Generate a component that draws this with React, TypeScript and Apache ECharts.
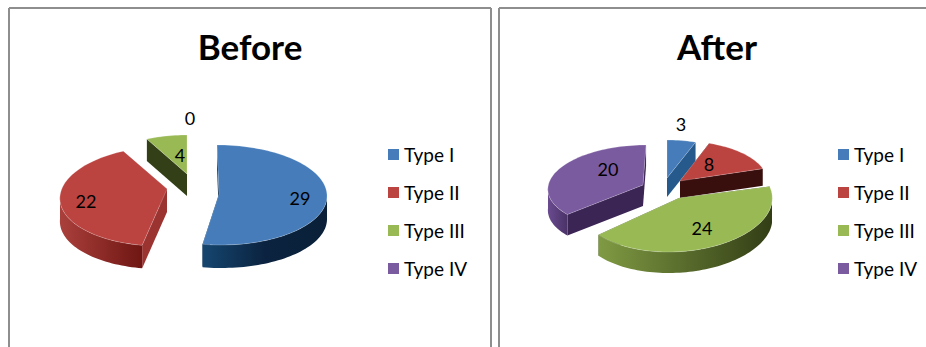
import React, { useEffect, useRef } from "react";
import * as echarts from "echarts";

const typeNames = ["Type I", "Type II", "Type III", "Type IV"];
const beforeValues = [29, 22, 4, 0];
const afterValues = [3, 8, 24, 20];

const faceColors = ["#457cb9", "#bb4441", "#98b954", "#7b5ba0"];
const FONT = "Lato, Carlito, sans-serif";

type SliceLayout = {
  apex: [number, number];
  center: [number, number];
  rx: number;
  ry: number;
  shear: number;
  depth: number;
  cut: string;
  rim: string[];
  label: [number, number];
  order: number;
};

const beforeLayout: SliceLayout[] = [
  { apex: [219, 194], center: [219, 195], rx: 108, ry: 50, shear: 0.04, depth: 23, cut: "#0c2a4a", rim: ["#15466f", "#0b2340", "#0a2038"], label: [300, 198], order: 3 },
  { apex: [167, 189], center: [165, 196], rx: 105, ry: 50, shear: -0.1, depth: 23, cut: "#9b3431", rim: ["#aa403c", "#6f1613"], label: [86, 201], order: 2 },
  { apex: [187, 174], center: [187, 175], rx: 91, ry: 40, shear: 0, depth: 22, cut: "#333f16", rim: ["#333f16", "#333f16"], label: [180, 155], order: 1 },
  { apex: [190, 150], center: [190, 150], rx: 0, ry: 0, shear: 0, depth: 0, cut: "#3b2554", rim: ["#3b2554", "#3b2554"], label: [190, 118], order: 0 },
];

const afterLayout: SliceLayout[] = [
  { apex: [667, 178], center: [667, 178], rx: 85, ry: 38, shear: 0, depth: 19, cut: "#265a8c", rim: ["#265a8c", "#265a8c"], label: [681, 124], order: 0 },
  { apex: [680, 181], center: [680, 181], rx: 87, ry: 40, shear: 0, depth: 17, cut: "#390f0e", rim: ["#390f0e", "#390f0e"], label: [709, 164], order: 1 },
  { apex: [679, 198], center: [676, 202], rx: 96, ry: 50, shear: -0.15, depth: 21, cut: "#333f16", rim: ["#7f9a43", "#323d15"], label: [702, 228], order: 3 },
  { apex: [643, 185], center: [641, 187], rx: 93, ry: 42, shear: -0.12, depth: 21, cut: "#3b2554", rim: ["#6a4b90", "#4a3266"], label: [608, 169], order: 2 },
];

const rimPoint = (s: SliceLayout, deg: number, dy = 0): [number, number] => {
  const a = (deg * Math.PI) / 180;
  const up = s.ry * Math.cos(a);
  return [s.center[0] + s.rx * Math.sin(a) - s.shear * up, s.center[1] - up + dy];
};

const arc = (s: SliceLayout, from: number, to: number, dy = 0) => {
  const pts: [number, number][] = [];
  const steps = Math.max(2, Math.ceil((to - from) / 2));
  for (let i = 0; i <= steps; i++) pts.push(rimPoint(s, from + ((to - from) * i) / steps, dy));
  return pts;
};

// One wedge of the tilted pie: inner cut walls, the outer rim, the top face and the value label.
const wedgeSeries = (values: number[], layout: SliceLayout[], i: number) => {
  const total = values.reduce((a, b) => a + b, 0);
  const startValue = values.slice(0, i).reduce((a, b) => a + b, 0);
  const s = layout[i];
  return {
    type: "custom",
    name: typeNames[i],
    coordinateSystem: "none",
    z: 2 + s.order,
    silent: true,
    itemStyle: { color: faceColors[i] },
    data: [[values[i]]],
    renderItem: (_: unknown, api: any) => {
      const v = api.value(0) as number;
      const children: any[] = [];
      if (v > 0) {
        const from = (startValue / total) * 360;
        const to = ((startValue + v) / total) * 360;
        const d = s.depth;
        for (const edge of [from, to]) {
          const r = rimPoint(s, edge);
          children.push({
            type: "polygon",
            shape: { points: [s.apex, r, [r[0], r[1] + d], [s.apex[0], s.apex[1] + d]] },
            style: { fill: s.cut },
          });
        }
        const a = Math.max(from, 90);
        const b = Math.min(to, 270);
        if (b > a) {
          const stops = s.rim.map((color, k) => ({ offset: k / (s.rim.length - 1), color }));
          children.push({
            type: "polygon",
            shape: { points: [...arc(s, a, b), ...arc(s, a, b, d).reverse()] },
            style: { fill: new echarts.graphic.LinearGradient(0, 0, 1, 0, stops) },
          });
        }
        children.push({
          type: "polygon",
          shape: { points: [s.apex, ...arc(s, from, to)] },
          style: { fill: faceColors[i], stroke: "rgba(255,255,255,0.35)", lineWidth: 0.6 },
        });
      }
      children.push({
        type: "text",
        z2: 10,
        style: {
          text: String(v),
          x: s.label[0],
          y: s.label[1],
          align: "center",
          verticalAlign: "middle",
          fill: "#000",
          font: `18px ${FONT}`,
        },
      });
      return { type: "group", children };
    },
  };
};

const chartLegend = (left: number) => ({
  data: typeNames,
  orient: "vertical",
  left,
  top: 140,
  itemWidth: 11,
  itemHeight: 11,
  itemGap: 19,
  icon: "rect",
  selectedMode: false,
  textStyle: { fontFamily: FONT, fontSize: 19, color: "#000" },
});

const chartTitle = (text: string, x: number) => ({
  text,
  left: x,
  top: 23,
  textAlign: "center",
  textStyle: { fontFamily: FONT, fontSize: 35, fontWeight: "bold", color: "#000" },
});

const frameColor = "#8e8e8e";
const frameLine = (x1: number, y1: number, x2: number, y2: number) => ({
  type: "line",
  shape: { x1, y1, x2, y2 },
  style: { stroke: frameColor, lineWidth: 2 },
});

export default function App() {
  const ref = useRef<HTMLDivElement>(null);
  useEffect(() => {
    const chart = echarts.init(ref.current!, undefined, { renderer: "svg" });
    chart.setOption({
      animation: false,
      backgroundColor: "#fff",
      title: [chartTitle("Before", 245), chartTitle("After", 712)],
      legend: [chartLegend(383), chartLegend(833)],
      graphic: [
        frameLine(9, 8, 491, 8),
        frameLine(9, 8, 9, 347),
        frameLine(491, 8, 491, 347),
        frameLine(499, 8, 926, 8),
        frameLine(499, 8, 499, 347),
      ],
      series: [
        ...typeNames.map((_, i) => wedgeSeries(beforeValues, beforeLayout, i)),
        ...typeNames.map((_, i) => wedgeSeries(afterValues, afterLayout, i)),
      ],
    });
    return () => chart.dispose();
  }, []);
  return <div ref={ref} style={{ position: "absolute", left: 0, top: 0, width: 926, height: 347 }} />;
}
